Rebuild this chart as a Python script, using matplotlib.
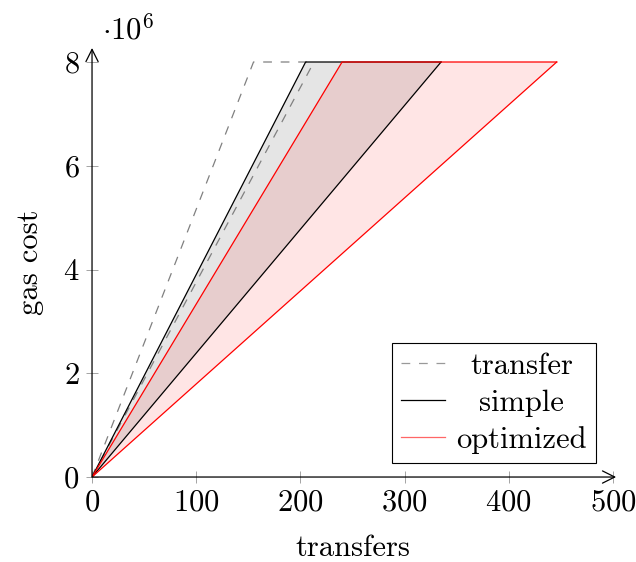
import numpy as np
import matplotlib
matplotlib.use('Agg')
import matplotlib.pyplot as plt
from matplotlib import rcParams
from matplotlib.lines import Line2D

rcParams.update({'font.family': 'cmr10', 'mathtext.fontset': 'cm',
                 'axes.formatter.use_mathtext': True, 'font.size': 22})

# transfers at which gas cost reaches the 8e6 limit (fast bound, slow bound)
series = ['transfer', 'simple', 'optimized']
x_fast = [155, 205, 240]
x_slow = [213, 335, 446]
gas_limit = 8.0  # in units of 1e6

fig = plt.figure(figsize=(6.36, 5.62), dpi=100)
ax = fig.add_axes([0.1447, 0.1512, 0.8191, 0.7634])

# transfer: dashed outline only
ax.plot([0, x_fast[0], x_slow[0]], [0, gas_limit, gas_limit], color='0.5', lw=0.9, dashes=(7, 7))
ax.plot([0, x_slow[0]], [0, gas_limit], color='0.5', lw=0.9, dashes=(7, 7))

# simple
ax.fill([0, x_fast[1], x_slow[1]], [0, gas_limit, gas_limit], color='black', alpha=0.1, lw=0)
ax.plot([0, x_fast[1], x_slow[1]], [0, gas_limit, gas_limit], color='black', lw=0.9)
ax.plot([0, x_slow[1]], [0, gas_limit], color='black', lw=0.9)

# optimized
ax.fill([0, x_fast[2], x_slow[2]], [0, gas_limit, gas_limit], color='red', alpha=0.1, lw=0)
ax.plot([0, x_fast[2], x_slow[2]], [0, gas_limit, gas_limit], color='red', lw=0.9)
ax.plot([0, x_slow[2]], [0, gas_limit], color='red', lw=0.9)

ax.set_xlim(0, 500)
ax.set_ylim(0, 8.27)
ax.set_xticks([0, 100, 200, 300, 400, 500])
ax.set_yticks([0, 2, 4, 6, 8])
ax.tick_params(direction='inout', length=8, width=0.5, color='0.5', pad=5)
for s in ['top', 'right', 'left', 'bottom']:
    ax.spines[s].set_visible(False)
ax.annotate('', xy=(1.006, 0), xytext=(0, 0), xycoords='axes fraction',
            arrowprops=dict(arrowstyle='->', lw=0.9, color='black', shrinkA=0, shrinkB=0))
ax.annotate('', xy=(0, 1.0), xytext=(0, 0), xycoords='axes fraction',
            arrowprops=dict(arrowstyle='->', lw=0.9, color='black', shrinkA=0, shrinkB=0))

ax.set_xlabel('transfers', labelpad=13)
ax.set_ylabel('gas cost', labelpad=14)
fig.text(0.16, 0.93, r'$\cdot10^6$', fontsize=22)

handles = [Line2D([], [], color='0.6', lw=0.9, dashes=(7, 7)),
           Line2D([], [], color='black', lw=0.9),
           Line2D([], [], color=(1, 0.4, 0.4), lw=0.9)]
leg = ax.legend(handles, series, loc='lower right', bbox_to_anchor=(0.967, 0.033),
                fancybox=False, edgecolor='black', framealpha=1, handlelength=1.45,
                labelspacing=0.3, borderpad=0.3, handletextpad=0.35, borderaxespad=0)
leg.get_frame().set_linewidth(0.8)

# centre the legend labels like the original
fig.canvas.draw()
r = fig.canvas.get_renderer()
widths = [t.get_window_extent(r).width for t in leg.get_texts()]
for t, w in zip(leg.get_texts(), widths):
    t.set_x((max(widths) - w) / 2)

plt.savefig('out.png', dpi=100)
